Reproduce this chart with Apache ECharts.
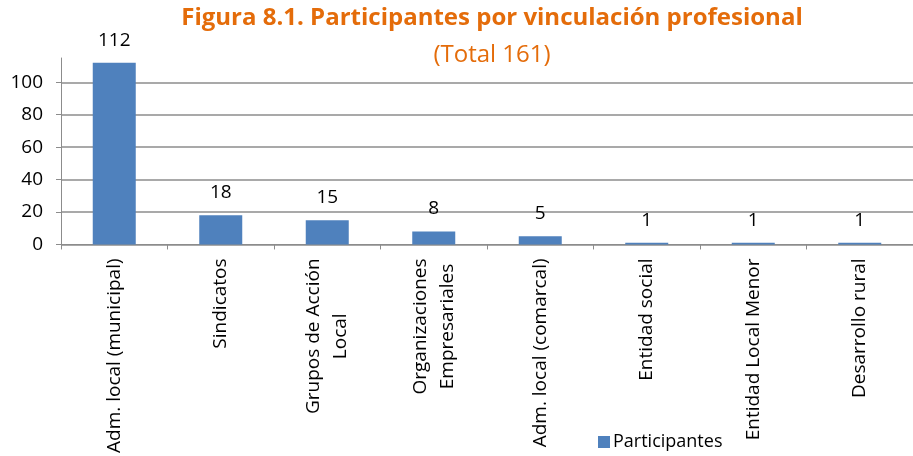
<!DOCTYPE html>
<html>
<head>
<meta charset="utf-8">
<script src="https://cdn.jsdelivr.net/npm/echarts@6/dist/echarts.min.js"></script>
<style>
  html, body { margin: 0; padding: 0; background: #ffffff; }
  #chart { width: 913px; height: 456px; }
</style>
</head>
<body>
<div id="chart"></div>
<script>
// datos
var categorias = [
  'Adm. local (municipal)',
  'Sindicatos',
  'Grupos de Acción\nLocal',
  'Organizaciones\nEmpresariales',
  'Adm. local (comarcal)',
  'Entidad social',
  'Entidad Local Menor',
  'Desarrollo rural'
];
var participantes = [112, 18, 15, 8, 5, 1, 1, 1];
var serieNombre = 'Participantes';
var titulo = 'Figura 8.1. Participantes por vinculación profesional';
var subtitulo = '(Total 161)';

var fuente = '"Open Sans", sans-serif';
var naranja = '#E46C0A';
var gris = '#8c8c8c';

var chart = echarts.init(document.getElementById('chart'), null, { renderer: 'canvas' });

var option = {
  backgroundColor: '#ffffff',
  animation: false,
  title: {
    text: titulo,
    subtext: subtitulo,
    left: 487,
    top: 1,
    textAlign: 'center',
    itemGap: 13,
    textStyle: {
      fontFamily: fuente,
      fontWeight: 'bold',
      fontSize: 24,
      color: naranja
    },
    subtextStyle: {
      fontFamily: fuente,
      fontSize: 24,
      color: naranja
    }
  },
  legend: {
    data: [serieNombre],
    left: 593,
    top: 428,
    itemWidth: 12,
    itemHeight: 12,
    itemGap: 6,
    icon: 'rect',
    textStyle: {
      fontFamily: fuente,
      fontSize: 18,
      color: '#000000',
      padding: [0, 0, 0, -2]
    }
  },
  grid: {
    left: 61,
    top: 58,
    width: 862,
    height: 188,
    containLabel: false
  },
  xAxis: {
    type: 'category',
    data: categorias,
    axisLine: { lineStyle: { color: gris, width: 1 } },
    axisTick: { show: true, alignWithLabel: false, length: 5, lineStyle: { color: gris } },
    axisLabel: {
      interval: 0,
      rotate: 90,
      margin: 14,
      formatter: function (v) {
        return v.split('\n').map(function (l) { return '{c|' + l + '}'; }).join('\n');
      },
      rich: {
        c: {
          align: 'center',
          fontFamily: fuente,
          fontSize: 19,
          lineHeight: 27,
          color: '#000000'
        }
      }
    }
  },
  yAxis: {
    type: 'value',
    min: 0,
    max: 115,
    interval: 20,
    axisLine: { show: true, lineStyle: { color: gris, width: 1 } },
    axisTick: { show: true, length: 5, lineStyle: { color: gris } },
    axisLabel: {
      showMaxLabel: false,
      margin: 18,
      fontFamily: fuente,
      fontSize: 19,
      color: '#000000'
    },
    splitLine: {
      show: true,
      showMaxLine: false,
      lineStyle: { color: gris, width: 1.5 }
    }
  },
  series: [{
    name: serieNombre,
    type: 'bar',
    data: participantes,
    barWidth: 43,
    itemStyle: { color: '#4F81BD' },
    label: {
      show: true,
      position: 'top',
      distance: 13,
      fontFamily: fuente,
      fontSize: 19,
      color: '#000000'
    }
  }]
};

chart.setOption(option);
</script>
</body>
</html>
